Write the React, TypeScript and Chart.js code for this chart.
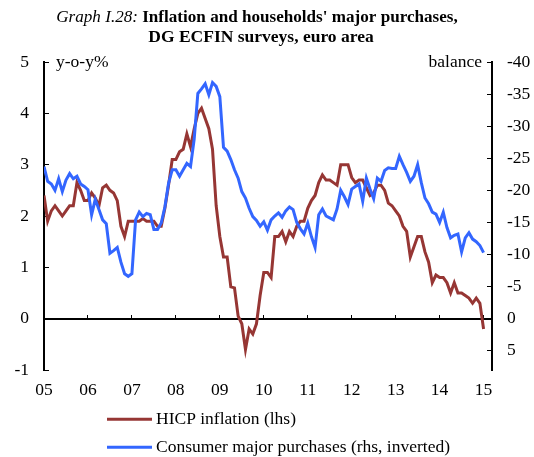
import React, { useEffect, useRef } from 'react';
import { Chart, registerables } from 'chart.js';

Chart.register(...registerables);

// ---------- data ----------
const YEAR_LABELS = ['05', '06', '07', '08', '09', '10', '11', '12', '13', '14', '15'];
const YEAR_TICK_MONTHS = [0, 12, 24, 36, 48, 60, 72, 84, 96, 108, 120];
const LEFT_TICKS = [-1, 0, 1, 2, 3, 4, 5];
const RIGHT_TICKS = [-40, -35, -30, -25, -20, -15, -10, -5, 0, 5];

// HICP inflation, y-o-y %, monthly (Dec 2004 .. Dec 2014)
const HICP_INFLATION = [
  2.4,
  1.9, 2.1, 2.2, 2.1, 2.0, 2.1, 2.2, 2.2, 2.65, 2.5, 2.3, 2.3,
  2.45, 2.35, 2.2, 2.55, 2.6, 2.5, 2.45, 2.3, 1.8, 1.6, 1.9, 1.9,
  1.9, 1.9, 1.95, 1.9, 1.9, 1.9, 1.8, 1.8, 2.15, 2.6, 3.1, 3.1,
  3.25, 3.3, 3.6, 3.35, 3.7, 4.0, 4.1, 3.9, 3.7, 3.3, 2.2, 1.6,
  1.2, 1.2, 0.62, 0.6, 0.05, -0.1, -0.6, -0.2, -0.3, -0.1, 0.45, 0.9,
  0.9, 0.8, 1.6, 1.6, 1.7, 1.5, 1.7, 1.6, 1.8, 1.9, 1.9, 2.15,
  2.3, 2.4, 2.65, 2.8, 2.7, 2.7, 2.65, 2.6, 3.0, 3.0, 3.0, 2.75,
  2.65, 2.7, 2.7, 2.55, 2.4, 2.45, 2.6, 2.6, 2.5, 2.25, 2.2, 2.1,
  2.0, 1.8, 1.7, 1.2, 1.4, 1.6, 1.6, 1.3, 1.1, 0.7, 0.85, 0.8,
  0.8, 0.7, 0.5, 0.7, 0.5, 0.5, 0.45, 0.4, 0.3, 0.4, 0.3, -0.2,
];

// Consumer major purchases, balance (rhs, inverted)
const MAJOR_PURCHASES = [
  -23.7,
  -21.4, -21.0, -20.0, -21.8, -19.8, -21.6, -22.6, -21.8, -22.2, -21.0, -20.6, -20.1,
  -16.2, -18.6, -17.0, -15.4, -14.8, -10.2, -10.6, -11.1, -8.8, -7.0, -6.6, -7.0,
  -15.4, -16.6, -15.9, -16.4, -16.2, -13.9, -13.9, -14.9, -17.4, -21.1, -23.2, -23.2,
  -22.2, -23.2, -24.2, -23.7, -28.0, -35.1, -35.8, -36.6, -34.9, -36.8, -36.2, -34.6,
  -26.7, -26.1, -24.8, -23.2, -21.9, -19.8, -18.8, -17.2, -15.9, -15.3, -14.4, -15.1,
  -13.8, -15.4, -16.0, -16.5, -15.8, -16.8, -17.4, -17.0, -15.0, -14.0, -13.2, -14.9,
  -12.8, -11.1, -16.2, -17.1, -16.0, -15.7, -15.4, -17.1, -20.0, -19.0, -17.8, -20.2,
  -20.6, -21.0, -18.3, -21.9, -20.2, -18.7, -21.9, -21.4, -23.1, -23.5, -23.4, -23.4,
  -25.3, -24.0, -22.8, -21.4, -22.2, -24.0, -21.2, -18.8, -17.9, -16.6, -16.3, -15.0,
  -16.6, -14.2, -12.6, -13.0, -13.2, -10.4, -12.6, -13.4, -12.4, -12.0, -11.4, -10.3,
];

const TITLE_PREFIX = 'Graph I.28: ';
const TITLE_LINE1 = "Inflation and households' major purchases,";
const TITLE_LINE2 = 'DG ECFIN surveys, euro area';
const LEFT_UNIT = 'y-o-y%';
const RIGHT_UNIT = 'balance';
const SERIES_NAMES = ['HICP inflation (lhs)', 'Consumer major purchases (rhs, inverted)'];

// ---------- style ----------
const FONT = '"Liberation Serif", "Times New Roman", serif';
const FS = 17.5;
const RED = '#963634';
const BLUE = '#3366FF';
const X_MAX = 122.3;

const textPlugin = {
  id: 'textPlugin',
  afterDraw(chart: any) {
    const ctx = chart.ctx as CanvasRenderingContext2D;
    const area = chart.chartArea;
    ctx.save();
    ctx.fillStyle = '#000';
    ctx.textBaseline = 'alphabetic';
    const italic = `italic 17.1px ${FONT}`;
    const bold1 = `bold 17.1px ${FONT}`;
    ctx.font = italic;
    const w1 = ctx.measureText(TITLE_PREFIX).width;
    ctx.font = bold1;
    const w2 = ctx.measureText(TITLE_LINE1).width;
    const x0 = 257 - (w1 + w2) / 2;
    ctx.textAlign = 'left';
    ctx.font = italic;
    ctx.fillText(TITLE_PREFIX, x0, 22);
    ctx.font = bold1;
    ctx.fillText(TITLE_LINE1, x0 + w1, 22);
    ctx.font = `bold ${FS}px ${FONT}`;
    ctx.textAlign = 'center';
    ctx.fillText(TITLE_LINE2, 261, 42);

    ctx.font = `${FS}px ${FONT}`;
    ctx.textAlign = 'left';
    ctx.fillText(LEFT_UNIT, area.left + 12, area.top + 5);
    ctx.textAlign = 'right';
    ctx.fillText(RIGHT_UNIT, area.right - 10, area.top + 4.5);

    // legend
    const colors = [RED, BLUE];
    const rows = [419.3, 447.3];
    ctx.textAlign = 'left';
    ctx.textBaseline = 'middle';
    rows.forEach((y, i) => {
      ctx.strokeStyle = colors[i];
      ctx.lineWidth = 3;
      ctx.beginPath();
      ctx.moveTo(107, y);
      ctx.lineTo(152, y);
      ctx.stroke();
      ctx.fillText(SERIES_NAMES[i], 156, y);
    });
    ctx.restore();
  },
};

export default function App() {
  const ref = useRef<HTMLCanvasElement | null>(null);

  useEffect(() => {
    if (!ref.current) return;
    const font = { family: FONT, size: FS };
    const yearTicks = (s: any) => {
      s.ticks = YEAR_TICK_MONTHS.map((v) => ({ value: v }));
    };
    const chart = new Chart(ref.current, {
      type: 'line',
      data: {
        datasets: [
          {
            label: SERIES_NAMES[0],
            data: HICP_INFLATION.map((v, i) => ({ x: i, y: v })),
            borderColor: RED,
            backgroundColor: RED,
            borderWidth: 3,
            pointRadius: 0,
            tension: 0,
            xAxisID: 'x',
            yAxisID: 'yL',
            order: 1,
          },
          {
            label: SERIES_NAMES[1],
            data: MAJOR_PURCHASES.map((v, i) => ({ x: i, y: v })),
            borderColor: BLUE,
            backgroundColor: BLUE,
            borderWidth: 3,
            pointRadius: 0,
            tension: 0,
            xAxisID: 'x',
            yAxisID: 'yR',
            order: 0,
          },
        ],
      },
      options: {
        responsive: false,
        animation: false,
        devicePixelRatio: 1,
        events: [],
        layout: { padding: { top: 62, left: 0, right: 0, bottom: 0 } },
        plugins: {
          legend: { display: false },
          title: { display: false },
          tooltip: { enabled: false },
        },
        scales: {
          x: {
            type: 'linear',
            position: 'bottom',
            min: 0,
            max: X_MAX,
            afterBuildTicks: yearTicks,
            ticks: {
              callback: (_v: any, idx: number) => YEAR_LABELS[idx],
              font,
              color: '#000',
              padding: 9.5,
              maxRotation: 0,
              autoSkip: false,
            },
            grid: { display: false, drawTicks: false },
            border: { display: false },
            afterFit: (s: any) => {
              s.height = 87;
            },
          },
          xZero: {
            type: 'linear',
            position: { yL: 0 },
            min: 0,
            max: X_MAX,
            afterBuildTicks: yearTicks,
            ticks: { display: false },
            grid: {
              display: true,
              drawOnChartArea: false,
              drawTicks: true,
              tickLength: -5,
              color: '#000',
              lineWidth: 1,
            },
            border: { display: true, color: '#000', width: 2 },
          },
          yL: {
            type: 'linear',
            position: 'left',
            min: -1,
            max: 5,
            afterBuildTicks: (s: any) => {
              s.ticks = LEFT_TICKS.map((v) => ({ value: v }));
            },
            ticks: { font, color: '#000', padding: 20, callback: (v: any) => String(v) },
            grid: {
              drawOnChartArea: false,
              drawTicks: true,
              tickLength: -5,
              color: '#000',
              lineWidth: 1,
            },
            border: { display: true, color: '#000', width: 2 },
            afterFit: (s: any) => {
              s.width = 44;
            },
          },
          yR: {
            type: 'linear',
            position: 'right',
            reverse: true,
            min: -40,
            max: 8,
            afterBuildTicks: (s: any) => {
              s.ticks = RIGHT_TICKS.map((v) => ({ value: v }));
            },
            ticks: { font, color: '#000', padding: 20, callback: (v: any) => String(v) },
            grid: {
              drawOnChartArea: false,
              drawTicks: true,
              tickLength: -5,
              color: '#000',
              lineWidth: 1,
            },
            border: { display: true, color: '#000', width: 2 },
            afterFit: (s: any) => {
              s.width = 42;
            },
          },
        },
      } as any,
      plugins: [textPlugin],
    });
    return () => chart.destroy();
  }, []);

  return (
    <div style={{ position: 'absolute', left: 0, top: 0, width: 534, height: 457, background: '#fff' }}>
      <canvas ref={ref} width={534} height={457} style={{ display: 'block' }} />
    </div>
  );
}
